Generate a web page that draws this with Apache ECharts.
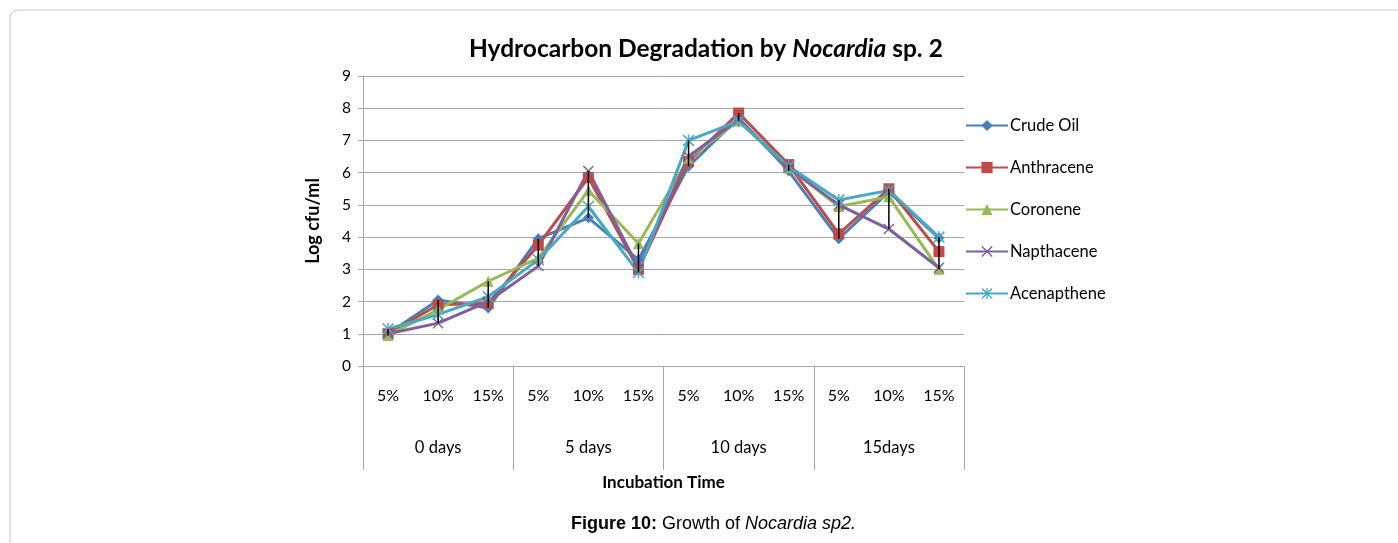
<!DOCTYPE html>
<html>
<head>
<meta charset="utf-8">
<script src="https://cdn.jsdelivr.net/npm/echarts@6/dist/echarts.min.js"></script>
<style>
  html, body { margin: 0; padding: 0; background: #fff; }
  #chart { width: 1398px; height: 543px; }
</style>
</head>
<body>
<div id="chart"></div>
<script>
// 数据：log cfu/ml
const concentrations = ['5%', '10%', '15%', '5%', '10%', '15%', '5%', '10%', '15%', '5%', '10%', '15%']
const periods = ['0 days', '5 days', '10 days', '15days']
const crudeOil = [1.0, 2.05, 1.8, 3.95, 4.6, 3.3, 6.2, 7.7, 6.05, 3.95, 5.4, 3.97]
const anthracene = [1.0, 1.9, 1.95, 3.75, 5.85, 3.0, 6.35, 7.85, 6.25, 4.1, 5.5, 3.55]
const coronene = [0.95, 1.75, 2.63, 3.35, 5.45, 3.8, 6.45, 7.6, 6.15, 4.95, 5.25, 3.0]
const napthacene = [1.0, 1.33, 2.0, 3.1, 6.05, 3.05, 6.5, 7.65, 6.15, 5.0, 4.25, 3.05]
const acenapthene = [1.15, 1.6, 2.15, 3.3, 4.95, 2.9, 7.0, 7.6, 6.2, 5.15, 5.45, 4.0]

const FONT = 'Lato, "Open Sans", sans-serif'
const CAPTION_FONT = '"Liberation Sans", Arial, sans-serif'
const GRID_COLOR = '#a6a6a6'

// 标记形状
const crossPath = 'path://M0,0.9L0.9,0L10,9.1L9.1,10ZM9.1,0L10,0.9L0.9,10L0,9.1Z'
const starPath = 'path://M0,0.9L0.9,0L10,9.1L9.1,10ZM9.1,0L10,0.9L0.9,10L0,9.1ZM4.4,0L5.6,0L5.6,10L4.4,10Z'

const seriesDefs = [
  { name: 'Crude Oil', data: crudeOil, color: '#4a7ebb', symbol: 'diamond', size: 11 },
  { name: 'Anthracene', data: anthracene, color: '#be4b48', symbol: 'rect', size: 11 },
  { name: 'Coronene', data: coronene, color: '#98b954', symbol: 'triangle', size: 11 },
  { name: 'Napthacene', data: napthacene, color: '#7d60a0', symbol: crossPath, size: 11 },
  { name: 'Acenapthene', data: acenapthene, color: '#46aac5', symbol: starPath, size: 12 }
]

// 高低线：每个类别的最大/最小值
const highLow = concentrations.map((_, i) => {
  const vals = seriesDefs.map(s => s.data[i])
  return [i, Math.min(...vals), Math.max(...vals)]
})

const chart = echarts.init(document.getElementById('chart'))

const option = {
  animation: false,
  textStyle: { fontFamily: FONT },
  graphic: [{
    type: 'rect',
    shape: { x: 10, y: 10, width: 1400, height: 545, r: 8 },
    style: { fill: 'none', stroke: '#c4c4c4', lineWidth: 1 },
    silent: true
  }],
  title: [
    {
      text: '{b|Hydrocarbon Degradation by }{bi|Nocardia}{b| sp. 2}',
      left: 464,
      top: 32,
      textStyle: {
        rich: {
          b: { fontFamily: FONT, fontSize: 24.5, fontWeight: 'bold', color: '#000' },
          bi: { fontFamily: FONT, fontSize: 24.5, fontWeight: 'bold', fontStyle: 'italic', color: '#000' }
        }
      }
    },
    {
      text: '{b|Figure 10:}{n| Growth of }{i|Nocardia sp2.}',
      left: 566,
      top: 510,
      textStyle: {
        rich: {
          b: { fontFamily: CAPTION_FONT, fontSize: 18, fontWeight: 'bold', color: '#000' },
          n: { fontFamily: CAPTION_FONT, fontSize: 18, fontWeight: 'normal', color: '#000' },
          i: { fontFamily: CAPTION_FONT, fontSize: 18, fontWeight: 'normal', fontStyle: 'italic', color: '#000' }
        }
      }
    }
  ],
  legend: {
    orient: 'vertical',
    left: 960,
    top: 112,
    itemWidth: 42,
    itemHeight: 14,
    itemGap: 25,
    textStyle: { fontFamily: FONT, fontSize: 16.5, color: '#000', padding: [0, 0, 0, -3] },
    data: seriesDefs.map(s => s.name)
  },
  grid: { left: 363, right: 434, top: 76, bottom: 177 },
  xAxis: [
    {
      type: 'category',
      data: concentrations,
      position: 'bottom',
      offset: 0,
      axisLine: { show: true, lineStyle: { color: GRID_COLOR } },
      axisTick: { show: false },
      axisLabel: { fontFamily: FONT, fontSize: 16, color: '#000', margin: 22 }
    },
    {
      type: 'category',
      data: periods,
      position: 'bottom',
      offset: 0,
      name: 'Incubation Time',
      nameLocation: 'middle',
      nameGap: 108,
      nameTextStyle: { fontFamily: FONT, fontSize: 17, fontWeight: 'bold', color: '#000' },
      axisLine: { show: false },
      axisTick: { show: true, length: 104, lineStyle: { color: GRID_COLOR } },
      axisLabel: { fontFamily: FONT, fontSize: 16.5, color: '#000', margin: 73 }
    }
  ],
  yAxis: {
    type: 'value',
    min: 0,
    max: 9,
    interval: 1,
    name: 'Log cfu/ml',
    nameLocation: 'middle',
    nameRotate: 90,
    nameGap: 41,
    nameTextStyle: { fontFamily: FONT, fontSize: 18, fontWeight: 'bold', color: '#000' },
    axisLine: { show: true, lineStyle: { color: GRID_COLOR } },
    axisTick: { show: true, length: 5, lineStyle: { color: GRID_COLOR } },
    axisLabel: { fontFamily: FONT, fontSize: 15.5, color: '#000', margin: 12 },
    splitLine: { lineStyle: { color: GRID_COLOR } }
  },
  series: [
    ...seriesDefs.map(s => ({
      name: s.name,
      type: 'line',
      data: s.data,
      symbol: s.symbol,
      symbolSize: s.size,
      symbolKeepAspect: true,
      itemStyle: { color: s.color },
      lineStyle: { color: s.color, width: 3 }
    })),
    {
      name: 'high-low',
      type: 'custom',
      z: 10,
      data: highLow,
      encode: { x: 0, y: [1, 2] },
      renderItem: (params, api) => {
        const hi = api.coord([api.value(0), api.value(2)])
        const lo = api.coord([api.value(0), api.value(1)])
        return {
          type: 'line',
          shape: { x1: hi[0], y1: hi[1], x2: lo[0], y2: lo[1] },
          style: { stroke: '#000', lineWidth: 1.5 }
        }
      }
    }
  ]
}

chart.setOption(option)
</script>
</body>
</html>
